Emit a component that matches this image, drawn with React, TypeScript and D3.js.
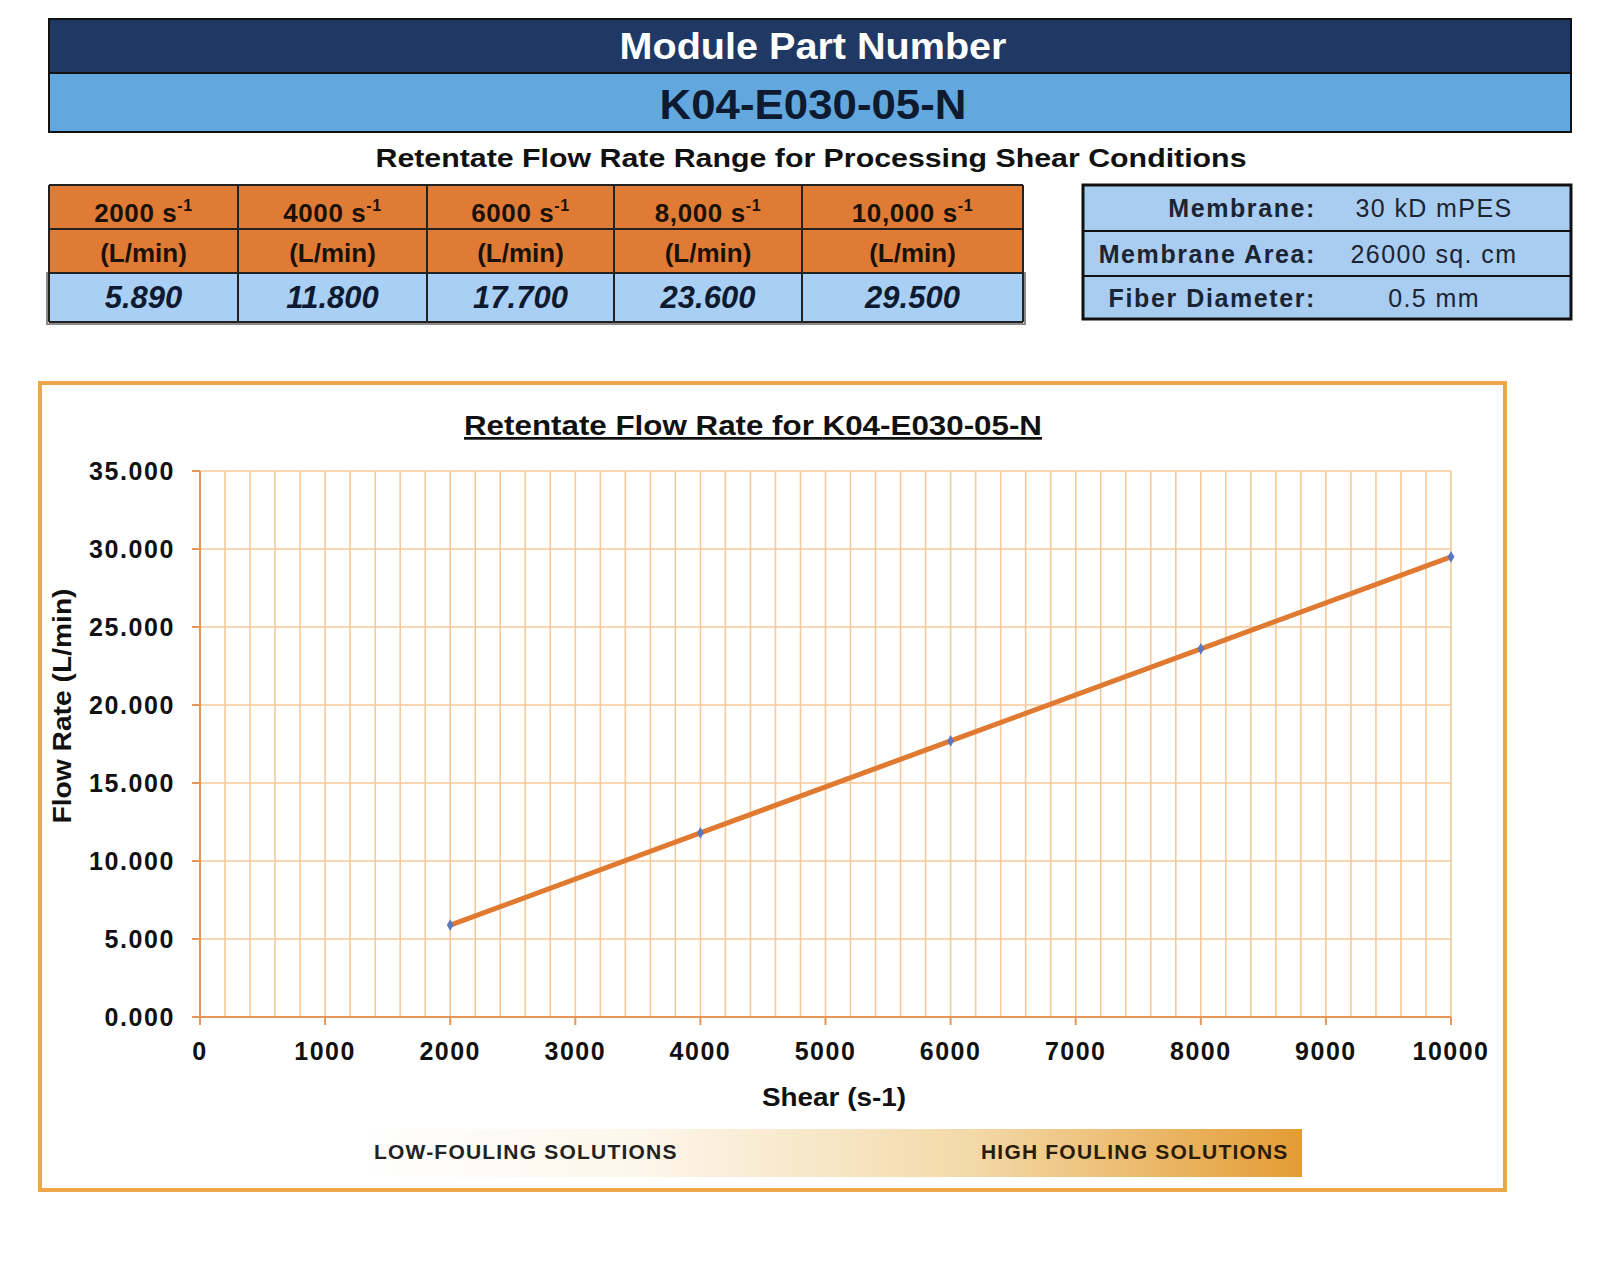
import React from 'react';
import * as d3 from 'd3';

const shearRates = [2000, 4000, 6000, 8000, 10000];
const flowRates = [5.89, 11.8, 17.7, 23.6, 29.5];
const shearLabels = ['2000 s', '4000 s', '6000 s', '8,000 s', '10,000 s'];
const membraneLabels = ['Membrane:', 'Membrane Area:', 'Fiber Diameter:'];
const membraneValues = ['30 kD mPES', '26000 sq. cm', '0.5 mm'];
const yTicks = [0, 5, 10, 15, 20, 25, 30, 35];
const xTicks = [0, 1000, 2000, 3000, 4000, 5000, 6000, 7000, 8000, 9000, 10000];

const partNumber = 'K04-E030-05-N';
const font = '"Liberation Sans", Arial, sans-serif';

const App = () => {
  const x = d3.scaleLinear().domain([0, 10000]).range([200, 1451]);
  const y = d3.scaleLinear().domain([0, 35]).range([1017, 471]);
  const minorX = d3.range(0, 10001, 200);
  const fmt = d3.format('.3f');

  const line = d3
    .line<number>()
    .x((_, i) => x(shearRates[i]))
    .y((d) => y(d));

  // table geometry
  const colEdges = [49, 238, 427, 614, 802, 1023];
  const rowEdges = [185, 229, 273, 322];
  const infoRows = [185, 231, 276, 319];

  return (
    <svg
      width={1600}
      height={1264}
      style={{ position: 'absolute', left: 0, top: 0, background: '#fff' }}
      fontFamily={font}
    >
      <defs>
        <linearGradient id="fouling" x1="0" x2="1" y1="0" y2="0">
          <stop offset="0%" stopColor="#ffffff" />
          <stop offset="30%" stopColor="#fdf6ea" />
          <stop offset="65%" stopColor="#f3d9a8" />
          <stop offset="100%" stopColor="#e49c34" />
        </linearGradient>
      </defs>

      {/* header bands */}
      <rect x={49} y={19} width={1522} height={54} fill="#1f3864" stroke="#111" strokeWidth={2} />
      <rect x={49} y={73} width={1522} height={59} fill="#62a8de" stroke="#111" strokeWidth={2} />
      <text x={813} y={59} textAnchor="middle" fontSize={37} fontWeight="bold" fill="#fff"
        textLength={387} lengthAdjust="spacingAndGlyphs">
        Module Part Number
      </text>
      <text x={813} y={119} textAnchor="middle" fontSize={43} fontWeight="bold" fill="#0e1a30"
        textLength={307} lengthAdjust="spacingAndGlyphs">
        {partNumber}
      </text>
      <text x={811} y={167} textAnchor="middle" fontSize={26} fontWeight="bold" fill="#111"
        textLength={871} lengthAdjust="spacingAndGlyphs">
        Retentate Flow Rate Range for Processing Shear Conditions
      </text>

      {/* flow rate table */}
      <rect x={49} y={rowEdges[0]} width={974} height={rowEdges[2] - rowEdges[0]} fill="#e07b35" />
      <rect x={49} y={rowEdges[2]} width={974} height={rowEdges[3] - rowEdges[2]} fill="#aacff4" />
      <rect x={47} y={rowEdges[2]} width={978} height={rowEdges[3] - rowEdges[2] + 2} fill="none" stroke="#8a8a8a" strokeWidth={2} />
      {rowEdges.map((ry, i) => (
        <line key={`r${i}`} x1={49} x2={1023} y1={ry} y2={ry} stroke="#222" strokeWidth={2} />
      ))}
      {colEdges.map((cx, i) => (
        <line key={`c${i}`} x1={cx} x2={cx} y1={rowEdges[0]} y2={rowEdges[3]} stroke="#222" strokeWidth={2} />
      ))}
      {shearLabels.map((lab, i) => {
        const cx = (colEdges[i] + colEdges[i + 1]) / 2;
        return (
          <g key={lab} fill="#1a1208" fontWeight="bold">
            <text x={cx} y={222} textAnchor="middle" fontSize={26} letterSpacing={0.6}>
              {lab}
              <tspan dy={-11} fontSize={16}>-1</tspan>
            </text>
            <text x={cx} y={262} textAnchor="middle" fontSize={26}>
              (L/min)
            </text>
            <text x={cx} y={308} textAnchor="middle" fontSize={31} fontStyle="italic" fill="#0e1a30">
              {flowRates[i].toFixed(3)}
            </text>
          </g>
        );
      })}

      {/* membrane info table */}
      <rect x={1083} y={infoRows[0]} width={488} height={infoRows[3] - infoRows[0]} fill="#a9ccf1" stroke="#111" strokeWidth={3} />
      {infoRows.slice(1, 3).map((ry) => (
        <line key={ry} x1={1083} x2={1571} y1={ry} y2={ry} stroke="#111" strokeWidth={2} />
      ))}
      {membraneLabels.map((lab, i) => {
        const cy = (infoRows[i] + infoRows[i + 1]) / 2 + 9;
        return (
          <g key={lab} fontSize={25} fill="#1b2433">
            <text x={1316} y={cy} textAnchor="end" fontWeight="bold" letterSpacing={1.6}>
              {lab}
            </text>
            <text x={1434} y={cy} textAnchor="middle" letterSpacing={1.4}>
              {membraneValues[i]}
            </text>
          </g>
        );
      })}

      {/* chart frame */}
      <rect x={40} y={383} width={1465} height={807} fill="#fff" stroke="#eea64c" strokeWidth={4} />
      <text x={753} y={435} textAnchor="middle" fontSize={27} fontWeight="bold" fill="#111" textDecoration="underline"
        textLength={578} lengthAdjust="spacingAndGlyphs">
        Retentate Flow Rate for {partNumber}
      </text>

      {/* grid */}
      {minorX.map((v) => (
        <line key={`gx${v}`} x1={x(v)} x2={x(v)} y1={y(35)} y2={y(0)} stroke="#f8c89a" strokeWidth={1.6} />
      ))}
      {yTicks.map((v) => (
        <line key={`gy${v}`} x1={x(0)} x2={x(10000)} y1={y(v)} y2={y(v)} stroke="#f8c89a" strokeWidth={1.6} />
      ))}

      {/* axes */}
      <line x1={x(0)} x2={x(0)} y1={y(35)} y2={y(0)} stroke="#e8955a" strokeWidth={2} />
      <line x1={x(0)} x2={x(10000)} y1={y(0)} y2={y(0)} stroke="#e8955a" strokeWidth={2} />
      {yTicks.map((v) => (
        <g key={`yt${v}`}>
          <line x1={x(0) - 8} x2={x(0)} y1={y(v)} y2={y(v)} stroke="#e8955a" strokeWidth={2} />
          <text x={175} y={y(v) + 9} textAnchor="end" fontSize={25} fontWeight="bold" fill="#111" letterSpacing={1.6}>
            {fmt(v)}
          </text>
        </g>
      ))}
      {xTicks.map((v) => (
        <g key={`xt${v}`}>
          <line x1={x(v)} x2={x(v)} y1={y(0)} y2={y(0) + 8} stroke="#e8955a" strokeWidth={2} />
          <text x={x(v)} y={1060} textAnchor="middle" fontSize={25} fontWeight="bold" fill="#111" letterSpacing={1.5}>
            {v}
          </text>
        </g>
      ))}
      <text x={834} y={1106} textAnchor="middle" fontSize={25} fontWeight="bold" fill="#111"
        textLength={144} lengthAdjust="spacingAndGlyphs">
        Shear (s-1)
      </text>
      <text
        transform="translate(71, 706) rotate(-90)"
        textAnchor="middle"
        fontSize={25}
        fontWeight="bold"
        fill="#111"
        textLength={235}
        lengthAdjust="spacingAndGlyphs"
      >
        Flow Rate (L/min)
      </text>

      {/* series */}
      <path d={line(flowRates) ?? ''} fill="none" stroke="#e07a30" strokeWidth={5} />
      {flowRates.map((v, i) => (
        <path
          key={`m${i}`}
          d={d3.symbol(d3.symbolDiamond, 40)() ?? ''}
          transform={`translate(${x(shearRates[i])}, ${y(v)})`}
          fill="#5a78c0"
        />
      ))}

      {/* fouling band */}
      <rect x={362} y={1129} width={940} height={48} fill="url(#fouling)" />
      <text x={374} y={1159} fontSize={21} fontWeight="bold" fill="#222" letterSpacing={1.2}>
        LOW-FOULING SOLUTIONS
      </text>
      <text x={981} y={1159} fontSize={21} fontWeight="bold" fill="#2a1c08" letterSpacing={1.2}>
        HIGH FOULING SOLUTIONS
      </text>
    </svg>
  );
};

export default App;
